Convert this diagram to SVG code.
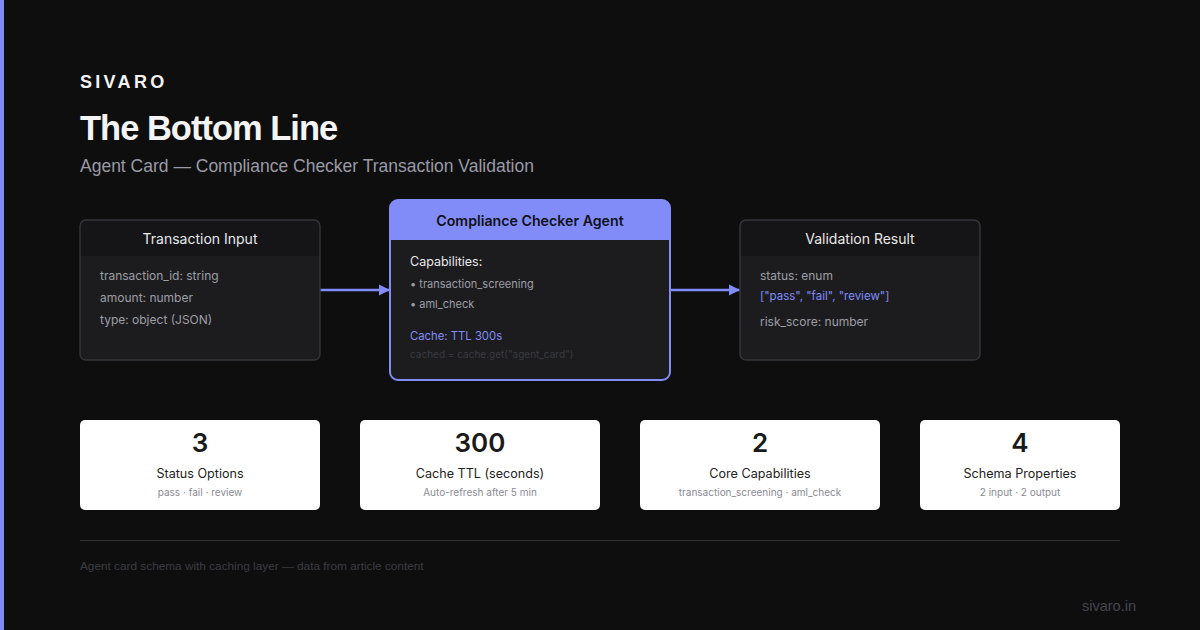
<svg xmlns="http://www.w3.org/2000/svg" width="1200" height="630" viewBox="0 0 1200 630">
<defs>
<style>
.hdr{font-family:"Liberation Sans",Arial,sans-serif}
.ui{font-family:Inter,"Noto Sans",sans-serif}
.bh{fill:#151517}
.bt{font-size:14px;fill:#e8e8ea;text-anchor:middle}
.row{font-size:12px;fill:#9e9ea6}
.bul{font-size:11px;fill:#9e9ea6}
.card{fill:#ffffff}
.num{font-size:26px;font-weight:600;fill:#1a1a1a;text-anchor:middle}
.lab{font-size:12.6px;fill:#222;text-anchor:middle}
.sub{font-size:10px;fill:#8a8a94;text-anchor:middle}
.conn{stroke:#818cf8;stroke-width:2.5;fill:none}
</style>
<marker id="ah" viewBox="0 0 10 10" refX="10" refY="5" markerWidth="4.5" markerHeight="4.5" markerUnits="strokeWidth" orient="auto">
<path d="M0,0 L10,5 L0,10 z" fill="#818cf8"/>
</marker>
<clipPath id="c1"><rect x="80" y="220" width="240" height="140" rx="6"/></clipPath>
<clipPath id="c2"><rect x="390" y="200" width="280" height="180" rx="8"/></clipPath>
<clipPath id="c3"><rect x="740" y="220" width="240" height="140" rx="6"/></clipPath>
</defs>
<rect x="0" y="0" width="1200" height="630" fill="#0e0e0f"/>
<rect x="0" y="0" width="4" height="630" fill="#818cf8"/>

<g id="header">
<text x="80" y="88" class="hdr" font-size="18" font-weight="700" letter-spacing="3.3" fill="#f2f2f2">SIVARO</text>
<text x="80" y="140" class="hdr" font-size="34.5" font-weight="700" fill="#f4f4f4" letter-spacing="-1">The Bottom Line</text>
<text x="80" y="172" class="hdr" font-size="17.5" fill="#9a9aa6">Agent Card — Compliance Checker Transaction Validation</text>
</g>

<g id="connectors">
<line x1="320" y1="290" x2="390" y2="290" class="conn" marker-end="url(#ah)"/>
<line x1="670" y1="290" x2="740" y2="290" class="conn" marker-end="url(#ah)"/>
</g>

<g id="node-input" class="ui">
<rect x="80" y="220" width="240" height="140" rx="6" fill="#1c1c1f"/>
<rect x="80" y="220" width="240" height="36" class="bh" clip-path="url(#c1)"/>
<rect x="80" y="220" width="240" height="140" rx="6" fill="none" stroke="#34343a" stroke-width="1.5"/>
<text x="200" y="244" class="bt">Transaction Input</text>
<text x="100" y="280" class="row">transaction_id: string</text>
<text x="100" y="302" class="row">amount: number</text>
<text x="100" y="324" class="row">type: object (JSON)</text>
</g>

<g id="node-agent" class="ui">
<rect x="390" y="200" width="280" height="180" rx="8" fill="#1c1c1f"/>
<rect x="390" y="200" width="280" height="40" fill="#818cf8" clip-path="url(#c2)"/>
<rect x="390" y="200" width="280" height="180" rx="8" fill="none" stroke="#818cf8" stroke-width="2"/>
<text x="530" y="226" font-size="14.2" font-weight="600" fill="#111118" text-anchor="middle">Compliance Checker Agent</text>
<text x="410" y="266" font-size="12.5" fill="#e8e8ea">Capabilities:</text>
<text x="410" y="288" class="bul">• transaction_screening</text>
<text x="410" y="308" class="bul">• aml_check</text>
<text x="410" y="340" font-size="11.3" fill="#818cf8">Cache: TTL 300s</text>
<text x="410" y="358" font-size="10" fill="#3a3a40">cached = cache.get("agent_card")</text>
</g>

<g id="node-result" class="ui">
<rect x="740" y="220" width="240" height="140" rx="6" fill="#1c1c1f"/>
<rect x="740" y="220" width="240" height="36" class="bh" clip-path="url(#c3)"/>
<rect x="740" y="220" width="240" height="140" rx="6" fill="none" stroke="#34343a" stroke-width="1.5"/>
<text x="860" y="244" class="bt">Validation Result</text>
<text x="760" y="280" class="row">status: enum</text>
<text x="760" y="300" font-size="11.5" fill="#818cf8">["pass", "fail", "review"]</text>
<text x="760" y="326" class="row">risk_score: number</text>
</g>

<g id="stat-status" class="ui">
<rect x="80" y="420" width="240" height="90" rx="5" class="card"/>
<text x="200" y="452" class="num">3</text>
<text x="200" y="478" class="lab">Status Options</text>
<text x="200" y="496" class="sub">pass · fail · review</text>
</g>
<g id="stat-cache" class="ui">
<rect x="360" y="420" width="240" height="90" rx="5" class="card"/>
<text x="480" y="452" class="num">300</text>
<text x="480" y="478" class="lab">Cache TTL (seconds)</text>
<text x="480" y="496" class="sub">Auto-refresh after 5 min</text>
</g>
<g id="stat-capabilities" class="ui">
<rect x="640" y="420" width="240" height="90" rx="5" class="card"/>
<text x="760" y="452" class="num">2</text>
<text x="760" y="478" class="lab">Core Capabilities</text>
<text x="760" y="496" class="sub">transaction_screening · aml_check</text>
</g>
<g id="stat-schema" class="ui">
<rect x="920" y="420" width="200" height="90" rx="5" class="card"/>
<text x="1020" y="452" class="num">4</text>
<text x="1020" y="478" class="lab">Schema Properties</text>
<text x="1020" y="496" class="sub">2 input · 2 output</text>
</g>

<g id="footer">
<line x1="80" y1="540.5" x2="1120" y2="540.5" stroke="#333336" stroke-width="1"/>
<text x="80" y="570" class="hdr" font-size="11.8" fill="#3c3c40">Agent card schema with caching layer — data from article content</text>
<text x="1136" y="611" class="hdr" font-size="14.5" fill="#46464a" text-anchor="end">sivaro.in</text>
</g>
</svg>
